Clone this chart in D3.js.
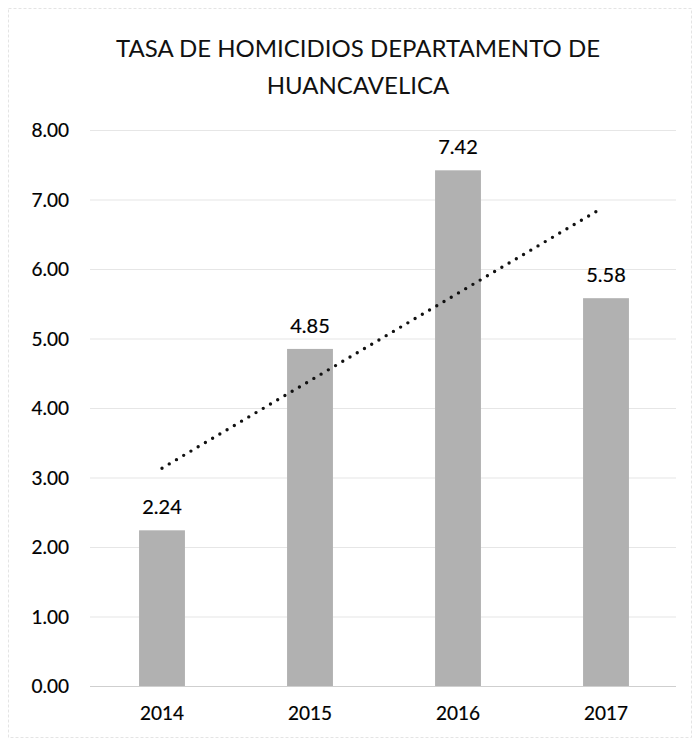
<!DOCTYPE html>
<html>
<head>
<meta charset="utf-8">
<script src="https://cdn.jsdelivr.net/npm/d3@7"></script>
<style>
  html, body { margin: 0; padding: 0; background: #fff; }
  svg { display: block; }
</style>
</head>
<body>
<div id="chart"></div>
<script>
  const years = ['2014', '2015', '2016', '2017'];
  const rates = [2.24, 4.85, 7.42, 5.58];
  const yTicks = [0, 1, 2, 3, 4, 5, 6, 7, 8];
  const titleLines = ['TASA DE HOMICIDIOS DEPARTAMENTO DE', 'HUANCAVELICA'];

  const w = 697, h = 743;
  const margin = { top: 130, right: 17, bottom: 57, left: 88 };
  const font = 'Lato, "Open Sans", sans-serif';

  const svg = d3.select('#chart').append('svg')
    .attr('width', w)
    .attr('height', h);

  // faint frame of the scanned chart area
  svg.append('rect')
    .attr('x', 8.5).attr('y', 8.5)
    .attr('width', w - 14).attr('height', h - 14)
    .attr('fill', 'none')
    .attr('stroke', '#e4e4e4')
    .attr('stroke-dasharray', '3,2');

  const x = d3.scaleBand()
    .domain(years)
    .range([margin.left, w - margin.right])
    .paddingInner(0.69)
    .paddingOuter(0.345);

  const y = d3.scaleLinear()
    .domain([0, 8])
    .range([h - margin.bottom, margin.top]);

  // title
  svg.append('g').selectAll('text')
    .data(titleLines)
    .join('text')
    .attr('x', 358)
    .attr('y', (d, i) => 57 + i * 37)
    .attr('text-anchor', 'middle')
    .attr('font-family', font)
    .attr('font-size', 24)
    .attr('fill', '#111')
    .text(d => d);

  // gridlines
  svg.append('g')
    .selectAll('line')
    .data(yTicks)
    .join('line')
    .attr('x1', margin.left + 2)
    .attr('x2', w - margin.right - 4)
    .attr('y1', d => y(d) + 0.5)
    .attr('y2', d => y(d) + 0.5)
    .attr('stroke', d => d === 0 ? '#cfcfcf' : '#e6e6e6')
    .attr('stroke-width', 1.2);

  // y axis labels
  const yAxis = svg.append('g')
    .attr('transform', `translate(${margin.left - 16},0)`)
    .call(d3.axisLeft(y).tickValues(yTicks).tickFormat(d3.format('.2f')).tickSize(0));
  yAxis.select('.domain').remove();
  yAxis.selectAll('text')
    .attr('font-family', font)
    .attr('font-size', 19)
    .attr('fill', '#000')
    .attr('stroke', '#000')
    .attr('stroke-width', 0.2)
    .attr('dy', '0.35em');

  // x axis labels
  const xAxis = svg.append('g')
    .attr('transform', `translate(0,${h - margin.bottom})`)
    .call(d3.axisBottom(x).tickSize(0));
  xAxis.select('.domain').remove();
  xAxis.selectAll('text')
    .attr('font-family', font)
    .attr('font-size', 19)
    .attr('fill', '#000')
    .attr('stroke', '#000')
    .attr('stroke-width', 0.2)
    .attr('dy', '1.65em');

  // bars
  svg.append('g')
    .selectAll('rect')
    .data(rates)
    .join('rect')
    .attr('x', (d, i) => x(years[i]))
    .attr('width', x.bandwidth())
    .attr('y', d => y(d))
    .attr('height', d => y(0) - y(d))
    .attr('fill', '#b1b1b1');

  // value labels
  svg.append('g')
    .selectAll('text')
    .data(rates)
    .join('text')
    .attr('x', (d, i) => x(years[i]) + x.bandwidth() / 2)
    .attr('y', d => y(d) - 16)
    .attr('text-anchor', 'middle')
    .attr('font-family', font)
    .attr('font-size', 20)
    .attr('fill', '#000')
    .attr('stroke', '#000')
    .attr('stroke-width', 0.2)
    .text(d => d.toFixed(2));

  // linear trendline (least squares on the bar values)
  const xs = rates.map((d, i) => i + 1);
  const mx = d3.mean(xs), my = d3.mean(rates);
  const slope = d3.sum(xs, (v, i) => (v - mx) * (rates[i] - my)) / d3.sum(xs, v => (v - mx) * (v - mx));
  const icpt = my - slope * mx;
  const trend = xs.filter((v, i) => i === 0 || i === xs.length - 1)
    .map(v => [x(years[v - 1]) + x.bandwidth() / 2, y(icpt + slope * v)]);
  // the trendline stops a little short of the last category centre
  trend[1][0] -= 6;
  trend[1][1] = y(icpt + slope * (4 - 6 / x.step()));

  svg.append('path')
    .datum(trend)
    .attr('d', d3.line())
    .attr('fill', 'none')
    .attr('stroke', '#111')
    .attr('stroke-width', 3.4)
    .attr('stroke-linecap', 'round')
    .attr('stroke-dasharray', '0,8.4');
</script>
</body>
</html>
